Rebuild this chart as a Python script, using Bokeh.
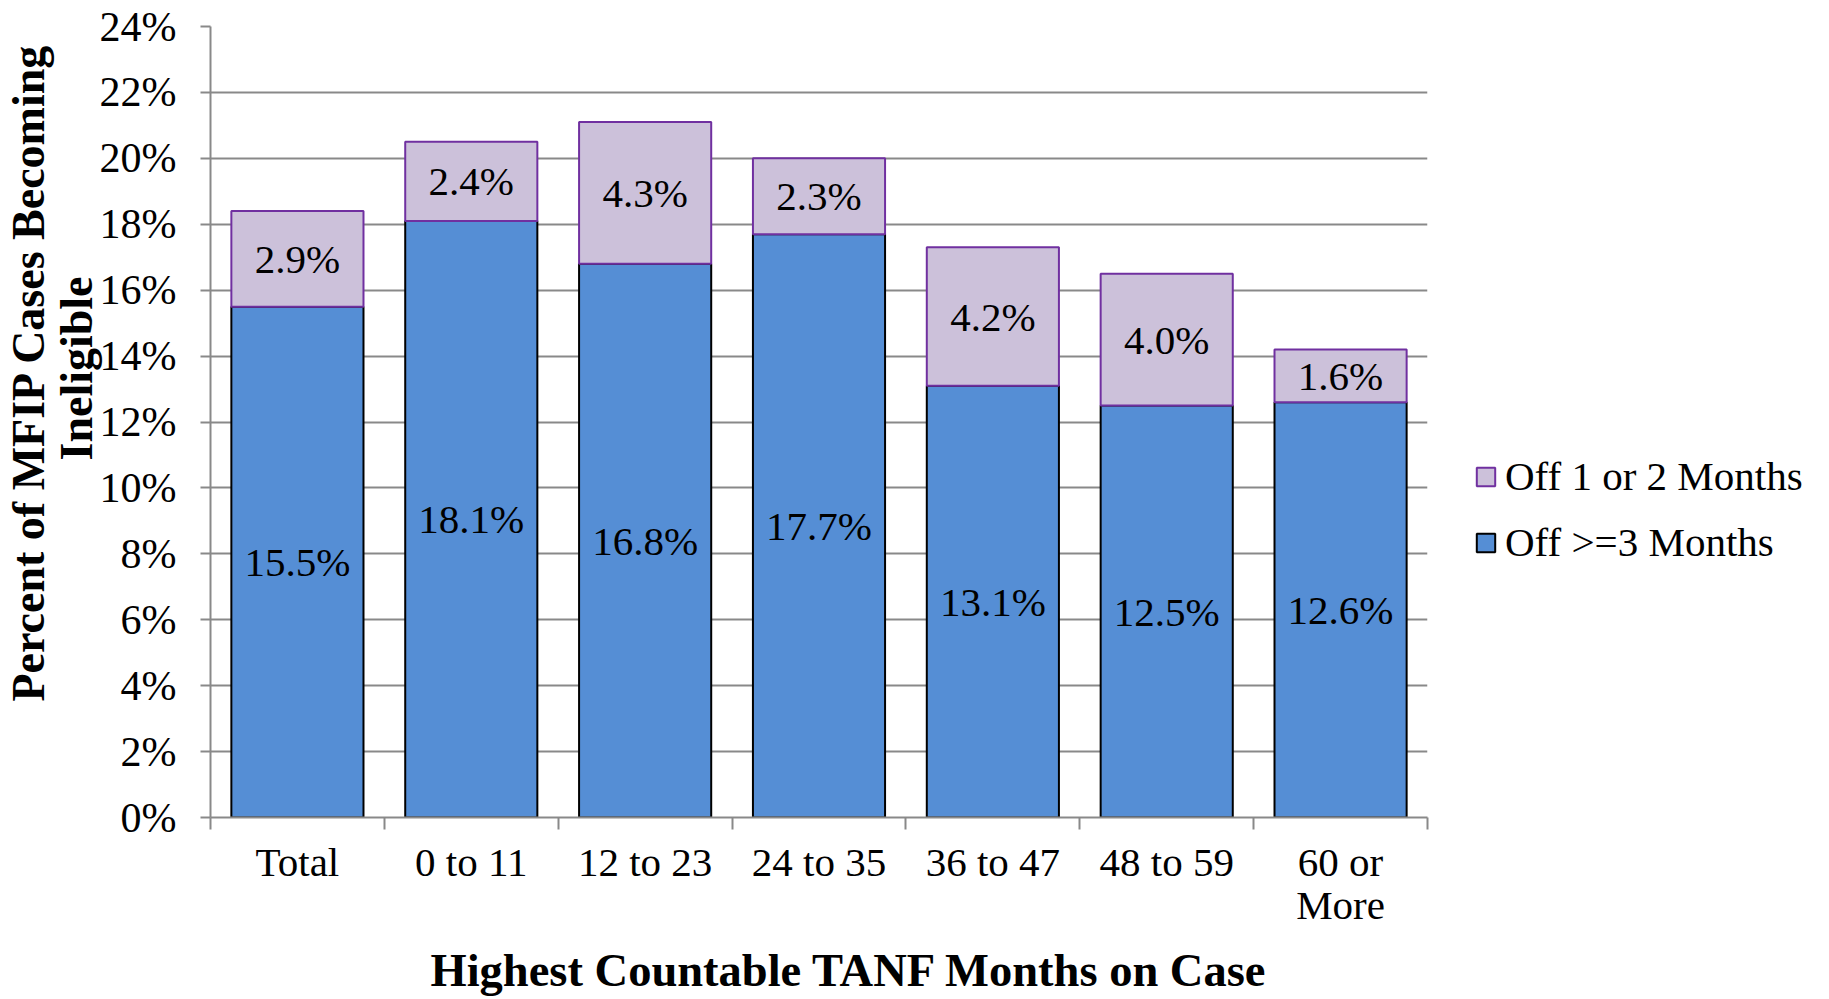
import math
from bokeh.plotting import figure
from bokeh.models import (ColumnDataSource, Range1d, FixedTicker, PrintfTickFormatter,
                          Legend, LegendItem, Title)
from bokeh.embed import file_html
from bokeh.resources import INLINE
from bokeh.core.properties import value

categories = ["Total", "0 to 11", "12 to 23", "24 to 35", "36 to 47", "48 to 59", "60 or\nMore"]
off_3_plus = [15.5, 18.1, 16.8, 17.7, 13.1, 12.5, 12.6]
off_1_2 = [2.9, 2.4, 4.3, 2.3, 4.2, 4.0, 1.6]
y_ticks = [0, 2, 4, 6, 8, 10, 12, 14, 16, 18, 20, 22, 24]
series_names = ["Off >=3 Months", "Off 1 or 2 Months"]
x_title = "Highest Countable TANF Months on Case"
y_title = ["Percent of MFIP Cases Becoming", "Ineligible"]

FONT = "Liberation Serif"
BLUE = "#558ED5"
LAV = "#CCC1DA"
PURPLE = "#7030A0"
GRID = "#898989"

n = len(categories)
xs = [i + 0.5 for i in range(n)]
source = ColumnDataSource(dict(
    x=xs,
    off3=off_3_plus,
    off12=off_1_2,
    y3=[v / 2 for v in off_3_plus],
    y12=[a + b / 2 for a, b in zip(off_3_plus, off_1_2)],
    t3=[f"{v:.1f}%" for v in off_3_plus],
    t12=[f"{v:.1f}%" for v in off_1_2],
))

p = figure(frame_width=1217, frame_height=791, output_backend="svg", toolbar_location=None,
           x_range=Range1d(0, n), y_range=Range1d(0, 24),
           min_border_left=200, min_border_right=0, min_border_top=26, min_border_bottom=166)
p.outline_line_color = None
p.background_fill_color = "white"
p.border_fill_color = "white"

r = p.vbar_stack(["off3", "off12"], x="x", width=0.76, source=source,
                 fill_color=[BLUE, LAV], line_color=["black", PURPLE], line_width=2)

for ycol, tcol in (("y3", "t3"), ("y12", "t12")):
    p.text(x="x", y=ycol, text=tcol, source=source, text_font=value(FONT),
           text_font_size="41px", text_align="center", text_baseline="middle",
           text_color="black")

# y axis
p.yaxis.ticker = FixedTicker(ticks=y_ticks)
p.yaxis.formatter = PrintfTickFormatter(format="%d%%")
p.yaxis.major_label_text_font = FONT
p.yaxis.major_label_text_font_size = "42px"
p.yaxis.major_label_text_color = "black"
p.yaxis.axis_line_color = GRID
p.yaxis.axis_line_width = 2
p.yaxis.major_tick_line_color = GRID
p.yaxis.major_tick_line_width = 2
p.yaxis.major_tick_out = 10
p.yaxis.major_tick_in = 0
p.yaxis.minor_tick_line_color = None
p.yaxis.major_label_standoff = 24

# x axis
p.xaxis.ticker = FixedTicker(ticks=xs, minor_ticks=list(range(n + 1)))
p.xaxis.major_label_overrides = {x: c for x, c in zip(xs, categories)}
p.xaxis.major_label_text_font = FONT
p.xaxis.major_label_text_font_size = "41px"
p.xaxis.major_label_text_line_height = 0.94
p.xaxis.major_label_text_color = "black"
p.xaxis.axis_line_color = GRID
p.xaxis.axis_line_width = 2
p.xaxis.major_tick_line_color = None
p.xaxis.major_tick_out = 0
p.xaxis.major_tick_in = 0
p.xaxis.minor_tick_line_color = GRID
p.xaxis.minor_tick_line_width = 2
p.xaxis.minor_tick_out = 12
p.xaxis.minor_tick_in = 0
p.xaxis.major_label_standoff = 9

p.xgrid.grid_line_color = None
p.ygrid.grid_line_color = GRID
p.ygrid.grid_line_width = 2
p.ygrid.ticker = FixedTicker(ticks=y_ticks)

# titles
tx = Title(text=x_title, align="left", offset=220, text_font=FONT, text_font_style="bold",
           text_font_size="46.5px", text_color="black", standoff=24)
p.add_layout(tx, "below")
ty2 = Title(text=y_title[1], align="left", offset=357, text_font=FONT, text_font_style="bold",
            text_font_size="46px", text_color="black", standoff=-10)
ty1 = Title(text=y_title[0], align="left", offset=116, text_font=FONT, text_font_style="bold",
            text_font_size="46px", text_color="black", standoff=0)
p.add_layout(ty2, "left")
p.add_layout(ty1, "left")

legend = Legend(items=[LegendItem(label=series_names[1], renderers=[r[1]]),
                       LegendItem(label=series_names[0], renderers=[r[0]])],
                location=(47, 251))
legend.label_text_font = FONT
legend.label_text_font_size = "41px"
legend.label_text_color = "black"
legend.glyph_width = 23
legend.glyph_height = 23
legend.label_standoff = 8
legend.spacing = 18
legend.padding = 0
legend.margin = 0
legend.border_line_alpha = 0
legend.background_fill_alpha = 0
p.add_layout(legend, "right")

open("out.html", "w").write(file_html(p, INLINE))
